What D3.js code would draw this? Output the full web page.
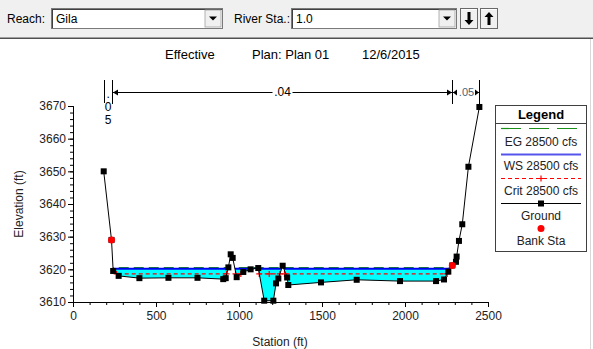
<!DOCTYPE html>
<html><head><meta charset="utf-8">
<script src="https://cdn.jsdelivr.net/npm/d3@7"></script>
<style>
body{margin:0;background:#fff;overflow:hidden}
svg{display:block;font-family:"Liberation Sans",Arial,sans-serif}
</style></head>
<body>
<script>
// ---------- data ----------
const groundStation = [185,232,242,275,400,575,750,905,920,936,950,962,986,1026,1070,1116,1152,1207,1223,1237,1263,1290,1297,1494,1709,1970,2187,2235,2261,2285,2307,2311,2325,2345,2382,2448];
const groundElev    = [3650,3629,3619.5,3618,3617.3,3617.4,3617.4,3617.0,3617.3,3620.6,3624.6,3623.5,3617.6,3619.2,3620,3620.4,3610.4,3610.4,3615.7,3617.2,3621.1,3617.5,3615.2,3616,3616.8,3616.4,3616.4,3616.9,3619.3,3621.2,3622.3,3623.9,3628.7,3633.8,3651.4,3669.7];
const bankStation = [232,2285];
const bankElev    = [3629,3621.2];
const wsElev = 3620.2;     // WS 28500 cfs
const egElev = 3620.5;     // EG 28500 cfs
const critElev = 3618.6;   // Crit 28500 cfs
const critMarkStation = [263,925,979,1011,1122,1182,1246,1274,2254];
const nStations = [185,232,2285,2448];
const nValues = [".05",".04",".05"];
const xTicks = [0,500,1000,1500,2000,2500];
const yTicks = [3610,3620,3630,3640,3650,3660,3670];
const legendItems = ["EG 28500 cfs","WS 28500 cfs","Crit 28500 cfs","Ground","Bank Sta"];
const titleParts = ["Effective","Plan: Plan 01","12/6/2015"];

// ---------- setup ----------
const W=593,H=349;
const svg=d3.select("body").append("svg").attr("width",W).attr("height",H);
const x=d3.scaleLinear().domain([0,2500]).range([73,488]);
const y=d3.scaleLinear().domain([3610,3670]).range([302,106]);
const font='"Liberation Sans",Arial,sans-serif';

// ---------- toolbar ----------
svg.append("rect").attr("x",0).attr("y",0).attr("width",W).attr("height",37).attr("fill","#f0f0f0");
svg.append("line").attr("x1",0).attr("x2",W).attr("y1",37.5).attr("y2",37.5).attr("stroke","#a0a0a0");
svg.append("line").attr("x1",0).attr("x2",W).attr("y1",38.5).attr("y2",38.5).attr("stroke","#505050");
svg.append("line").attr("x1",590.5).attr("x2",590.5).attr("y1",39).attr("y2",H).attr("stroke","#d8d8d8");
function combo(x0,x1,label){
  const g=svg.append("g");
  g.append("rect").attr("x",x0+0.5).attr("y",8.5).attr("width",x1-x0).attr("height",20).attr("fill","#fff").attr("stroke","#7a7a7a");
  g.append("line").attr("x1",x0+1).attr("x2",x1).attr("y1",9.5).attr("y2",9.5).attr("stroke","#404040");
  g.append("line").attr("x1",x0+1.5).attr("x2",x0+1.5).attr("y1",9).attr("y2",28).attr("stroke","#404040");
  g.append("rect").attr("x",x1-17).attr("y",10).attr("width",16).attr("height",17).attr("fill","#f0f0f0").attr("stroke","#a0a0a0").attr("stroke-width",0.8);
  const cx=x1-9, cy=18.5;
  g.append("path").attr("d",`M${cx-4},${cy-2}L${cx+4},${cy-2}L${cx},${cy+2}Z`).attr("fill","#000");
  g.append("text").attr("x",x0+5).attr("y",23).attr("font-size",12).attr("fill","#000").text(label);
}
svg.append("text").attr("x",7).attr("y",23).attr("font-size",12).text("Reach:");
combo(51,222,"Gila");
svg.append("text").attr("x",234).attr("y",23).attr("font-size",12).text("River Sta.:");
combo(291,456,"1.0");
function btn(x0,dir){
  const g=svg.append("g");
  g.append("rect").attr("x",x0+0.5).attr("y",8.5).attr("width",17).attr("height",20).attr("fill","#f0f0f0").attr("stroke","#696969");
  g.append("line").attr("x1",x0+1).attr("x2",x0+17).attr("y1",9.5).attr("y2",9.5).attr("stroke","#fff");
  const cx=x0+9;
  if(dir>0){
    g.append("path").attr("d",`M${cx-1.5},12V20H${cx-4.5}L${cx},25L${cx+4.5},20H${cx+1.5}V12Z`).attr("fill","#000");
  } else {
    g.append("path").attr("d",`M${cx-1.5},25V17H${cx-4.5}L${cx},12L${cx+4.5},17H${cx+1.5}V25Z`).attr("fill","#000");
  }
}
btn(460,1); btn(480,-1);

// ---------- title ----------
const tx=[165,252,362];
titleParts.forEach((t,i)=>svg.append("text").attr("x",tx[i]).attr("y",59).attr("font-size",13).attr("fill","#000").text(t));

// ---------- clip: region above ground ----------
const gpts=groundStation.map((s,i)=>[s,groundElev[i]]);
const abovePts=[[groundStation[0],3700]].concat(gpts).concat([[groundStation[groundStation.length-1],3700]]);
const line=d3.line().x(d=>x(d[0])).y(d=>y(d[1]));
svg.append("clipPath").attr("id","above").append("path").attr("d",line(abovePts)+"Z");

const sMin=groundStation[0], sMax=groundStation[groundStation.length-1];
svg.append("rect").attr("clip-path","url(#above)")
  .attr("x",x(sMin)).attr("width",x(sMax)-x(sMin))
  .attr("y",y(wsElev)).attr("height",y(3610)-y(wsElev))
  .attr("fill","#00ffff");
svg.append("line").attr("clip-path","url(#above)")
  .attr("x1",x(sMin)).attr("x2",x(sMax)).attr("y1",y(egElev)).attr("y2",y(egElev))
  .attr("stroke","#1a8f1a").attr("stroke-width",1.2).attr("stroke-dasharray","10,5");
svg.append("line").attr("clip-path","url(#above)")
  .attr("x1",x(sMin)).attr("x2",x(sMax)).attr("y1",y(wsElev)).attr("y2",y(wsElev))
  .attr("stroke","#0000ee").attr("stroke-width",2);
svg.append("line").attr("clip-path","url(#above)")
  .attr("x1",x(sMin)).attr("x2",x(sMax)).attr("y1",y(critElev)).attr("y2",y(critElev))
  .attr("stroke","#ff0000").attr("stroke-width",1.2).attr("stroke-dasharray","4,3");
critMarkStation.forEach(s=>{
  svg.append("path").attr("d",`M${x(s)-3},${y(critElev)}h6M${x(s)},${y(critElev)-3}v6`)
    .attr("stroke","#ff0000").attr("stroke-width",1.2);
});

// ground
svg.append("path").attr("d",line(gpts)).attr("fill","none").attr("stroke","#000").attr("stroke-width",1);
svg.selectAll("rect.gp").data(gpts).enter().append("rect").attr("class","gp")
  .attr("x",d=>x(d[0])-3).attr("y",d=>y(d[1])-3).attr("width",6).attr("height",6).attr("fill","#000");
bankStation.forEach((s,i)=>svg.append("circle").attr("cx",x(s)).attr("cy",y(bankElev[i])).attr("r",3.5).attr("fill","#ff0000"));

// ---------- axes ----------
svg.append("g").attr("transform",`translate(${x(0)},0)`)
  .call(d3.axisLeft(y).tickValues(yTicks).tickSize(5).tickPadding(2).tickFormat(d3.format("d")));
svg.append("g").attr("transform",`translate(${x(0)},0)`)
  .call(d3.axisLeft(y).tickValues(d3.range(3610,3671,2)).tickSize(3).tickFormat(""));
svg.append("g").attr("transform",`translate(0,${y(3610)})`)
  .call(d3.axisBottom(x).tickValues(xTicks).tickSize(5).tickPadding(4).tickFormat(d3.format("d")));
svg.append("g").attr("transform",`translate(0,${y(3610)})`)
  .call(d3.axisBottom(x).tickValues(d3.range(0,2501,100)).tickSize(3).tickFormat(""));
svg.selectAll(".domain").attr("stroke","#000");
svg.selectAll(".tick line").attr("stroke","#000");
svg.selectAll(".tick text").attr("font-family",font).attr("font-size",12).attr("fill","#222");
svg.append("text").attr("x",280).attr("y",346).attr("text-anchor","middle").attr("font-size",12).attr("fill","#222").text("Station (ft)");
svg.append("text").attr("transform","translate(23,204) rotate(-90)").attr("text-anchor","middle").attr("font-size",12).attr("fill","#222").text("Elevation (ft)");

// ---------- Manning's n ----------
const nTop=80, nBot=[103,104,104,105], nY=92;
nStations.forEach((s,i)=>svg.append("line").attr("x1",Math.round(x(s))+0.5).attr("x2",Math.round(x(s))+0.5).attr("y1",nTop).attr("y2",nBot[i]).attr("stroke","#000"));
const xa=Math.round(x(nStations[1]))+1, xb=Math.round(x(nStations[2]));
svg.append("line").attr("x1",xa).attr("x2",xb).attr("y1",nY+0.5).attr("y2",nY+0.5).attr("stroke","#000");
svg.append("path").attr("d",`M${xa},${nY+0.5}l5,-3v6Z`).attr("fill","#000");
svg.append("path").attr("d",`M${xb},${nY+0.5}l-5,-3v6Z`).attr("fill","#000");
const mid=(xa+xb)/2;
svg.append("rect").attr("x",mid-10).attr("y",nY-6).attr("width",20).attr("height",12).attr("fill","#fff");
svg.append("text").attr("x",mid).attr("y",nY+4).attr("text-anchor","middle").attr("font-size",12).text(nValues[1]);
const lx=(x(nStations[0])+x(nStations[1]))/2+0.5;
const lt=svg.append("text").attr("x",lx).attr("text-anchor","middle").attr("font-size",12);
lt.append("tspan").attr("x",lx).attr("y",98).text(".");
lt.append("tspan").attr("x",lx).attr("y",111).text("0");
lt.append("tspan").attr("x",lx).attr("y",124).text("5");
const r0=Math.round(x(nStations[2]))+1, r1=Math.round(x(nStations[3]));
svg.append("line").attr("x1",r0).attr("x2",r1).attr("y1",nY+0.5).attr("y2",nY+0.5).attr("stroke","#000");
svg.append("rect").attr("x",(r0+r1)/2-9).attr("y",nY-6).attr("width",18).attr("height",12).attr("fill","#fff");
svg.append("path").attr("d",`M${r0},${nY+0.5}l4,-3v6Z`).attr("fill","#000");
svg.append("path").attr("d",`M${r1},${nY+0.5}l-4,-3v6Z`).attr("fill","#000");
svg.append("text").attr("x",(r0+r1)/2+0.5).attr("y",nY+4).attr("text-anchor","middle").attr("font-size",11).attr("fill","#4a5f7a").text(nValues[2]);

// ---------- legend ----------
const L=svg.append("g");
const lx0=495, lx1=587;
L.append("rect").attr("x",lx0+0.5).attr("y",105.5).attr("width",lx1-lx0-1).attr("height",146).attr("fill","#fff").attr("stroke","#404040");
L.append("line").attr("x1",lx0).attr("x2",lx1).attr("y1",123.5).attr("y2",123.5).attr("stroke","#404040");
const lc=(lx0+lx1)/2;
L.append("text").attr("x",lc).attr("y",119).attr("text-anchor","middle").attr("font-size",13).attr("font-weight","bold").text("Legend");
const ls=lx0+6, le=lx1-6;
L.append("line").attr("x1",ls).attr("x2",le).attr("y1",128.5).attr("y2",128.5).attr("stroke","#1a8f1a").attr("stroke-width",1.2).attr("stroke-dasharray","20,8");
L.append("line").attr("x1",ls).attr("x2",le).attr("y1",154.5).attr("y2",154.5).attr("stroke","#5555ee").attr("stroke-width",2);
L.append("line").attr("x1",ls).attr("x2",le).attr("y1",178.5).attr("y2",178.5).attr("stroke","#ff0000").attr("stroke-dasharray","4,3");
L.append("path").attr("d",`M${lc-3},178.5h6M${lc},175.5v6`).attr("stroke","#ff0000").attr("stroke-width",1.2);
L.append("line").attr("x1",ls).attr("x2",le).attr("y1",203.5).attr("y2",203.5).attr("stroke","#000");
L.append("rect").attr("x",lc-3).attr("y",200.5).attr("width",6).attr("height",6).attr("fill","#000");
L.append("circle").attr("cx",lc).attr("cy",228.5).attr("r",3.5).attr("fill","#ff0000");
const ly=[146,170,195,220,245];
legendItems.forEach((t,i)=>L.append("text").attr("x",lc).attr("y",ly[i]).attr("text-anchor","middle").attr("font-size",12).attr("fill","#222").text(t));
</script>
</body></html>
